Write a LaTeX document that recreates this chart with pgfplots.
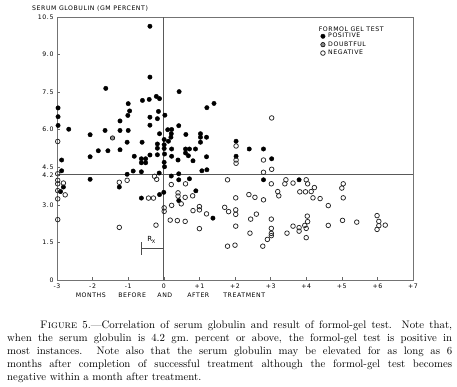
\documentclass[border=0pt]{standalone}
\usepackage{fontspec}
\usepackage{pgfplots}
\pgfplotsset{compat=1.18}
\newfontfamily\lbl[LetterSpace=9]{DejaVu Sans}
\newcommand{\lblfont}{\lbl\fontsize{6.2}{7}\selectfont}
\begin{document}
\begin{tikzpicture}
\useasboundingbox (0,0) rectangle (457pt,387pt);
\begin{axis}[
  at={(57pt,107pt)}, anchor=south west,
  width=356pt, height=263pt, scale only axis,
  xmin=-3, xmax=7, ymin=0, ymax=10.5,
  xtick={-3,-2,-1,0,1,2,3,4,5,6,7},
  xticklabels={-3,-2,-1,0,+1,+2,+3,+4,+5,+6,+7},
  ytick={0,1.5,3,4.2,4.5,6,7.5,9,10.5},
  yticklabels={0,1.5,3.0,4.2,4.5,6.0,7.5,9.0,10.5},
  tick align=inside, xtick pos=bottom, ytick pos=left,
  major tick length=3pt,
  axis line style={black!55, line width=0.7pt},
  tick style={black!60, line width=0.6pt},
  ticklabel style={font=\lblfont},
  clip=false,
  legend image code/.code={\draw[#1] plot coordinates {(0pt,0pt)};},
  legend style={draw=none, fill=none, at={(axis cs:4.4,9.88)}, anchor=north west,
    font=\lblfont, row sep=1.3pt, inner sep=0pt,
    nodes={inner xsep=3pt, inner ysep=0.5pt}},
  legend cell align=left,
]
\draw[black!65, line width=0.7pt] (axis cs:0,0) -- (axis cs:0,10.5);
\draw[black!65, line width=0.7pt] (axis cs:-3,4.2) -- (axis cs:7,4.2);
\draw[black!70, line width=0.5pt] (axis cs:-0.64,1.26) -- (axis cs:0,1.26);
\draw[black!70, line width=0.5pt] (axis cs:-0.64,1.0) -- (axis cs:-0.64,1.53);
\node[font=\lbl\fontsize{7}{8}\selectfont] at (axis cs:-0.35,1.6) {R\kern-0.5pt\raisebox{-2pt}{\fontsize{5}{5}\selectfont X}};

\addplot[only marks, mark=*, mark size=2.2pt, mark options={fill=black, draw=black}] table {
x y
-0.39 10.13
-0.39 8.10
-1.63 7.65
0.43 7.52
-2.97 6.87
-2.97 6.52
-2.97 6.17
-2.67 6.02
-2.07 5.80
-1.65 5.97
-1.23 6.35
-1.23 5.97
-1.00 7.04
-0.96 6.75
-1.01 6.57
-1.00 5.97
-1.03 5.50
-0.60 7.17
-0.41 7.21
-0.21 7.33
-0.12 7.24
-0.15 6.73
-0.39 6.50
-0.18 6.44
-0.39 6.18
0.03 6.58
-0.12 5.84
-0.61 5.50
-2.07 4.92
-1.84 5.16
-1.57 5.16
-1.23 5.20
-0.83 4.94
-0.63 4.84
-0.51 4.84
-0.63 4.68
-0.51 4.68
-0.39 4.99
-0.18 5.00
-0.18 5.43
-0.18 5.26
0.01 5.61
0.01 5.40
0.01 5.25
0.02 5.03
0.01 4.70
0.02 4.52
-2.87 4.79
-2.87 4.36
1.21 6.88
1.41 7.05
0.42 6.16
0.11 6.00
0.22 6.01
0.21 5.84
0.20 5.70
0.62 5.81
1.03 5.84
1.03 5.70
1.20 5.70
0.13 5.54
1.03 5.50
0.22 5.23
0.61 5.23
0.72 5.23
0.61 5.07
0.69 4.96
0.89 5.23
0.22 4.94
0.40 4.79
0.82 4.76
1.20 4.92
2.03 5.54
2.40 5.23
2.80 5.23
2.03 4.94
3.03 4.84
-2.82 3.71
-2.90 3.53
-2.07 4.02
-1.25 3.71
-1.03 4.22
-0.86 4.35
-0.63 4.32
-0.63 3.27
-0.13 4.27
-0.12 3.41
0.00 3.50
0.21 4.15
0.42 4.24
0.42 4.00
0.72 4.04
1.07 4.36
1.21 4.40
0.42 3.17
0.90 3.56
1.38 2.47
2.80 4.00
3.80 4.00
};
\addlegendentry{POSITIVE}
\addplot[only marks, mark=*, mark size=2.2pt, mark options={fill=black!45, draw=black, line width=0.6pt}] table {
x y
-1.44 5.67
};
\addlegendentry{DOUBTFUL}
\addplot[only marks, mark=o, mark size=2.3pt, mark options={draw=black!85, line width=0.75pt}] table {
x y
-2.98 5.53
-2.98 4.24
-2.98 3.98
-2.98 3.84
-2.82 3.87
-2.98 3.57
-2.77 3.40
-2.98 3.24
-2.98 2.41
-1.25 3.90
-1.25 2.10
-1.03 3.98
-0.43 3.27
-0.29 3.27
-0.26 4.14
-0.20 4.02
0.01 2.88
0.01 2.74
-0.22 2.19
2.03 5.35
2.03 4.79
2.03 4.66
2.80 4.79
3.03 6.47
3.03 4.42
2.80 4.30
0.21 3.81
0.61 3.84
0.40 3.48
0.40 3.35
0.49 3.04
0.60 3.30
0.81 3.36
0.22 2.98
0.82 2.77
1.00 2.93
1.00 2.80
1.20 2.64
0.18 2.39
0.38 2.37
0.60 2.34
1.00 2.05
1.79 4.00
2.02 3.28
1.71 2.90
1.82 2.73
2.02 2.80
2.02 2.62
2.02 2.15
1.79 1.35
2.00 1.39
2.39 3.41
2.56 3.30
2.80 3.20
3.02 3.84
2.44 2.43
2.60 2.63
3.02 2.43
2.42 1.87
3.02 2.06
3.02 1.86
3.02 1.77
2.91 1.62
2.78 1.35
3.43 4.00
3.40 3.84
3.63 3.87
4.00 4.00
4.04 3.84
3.20 3.53
3.23 3.36
3.82 3.52
3.98 3.52
4.14 3.53
4.23 3.69
4.19 3.28
4.39 3.25
4.62 2.97
5.04 3.84
5.00 3.67
5.04 3.28
3.46 1.87
3.63 2.15
3.80 2.09
3.80 1.95
3.96 2.18
4.00 2.06
4.04 2.33
4.03 2.55
4.00 1.69
4.62 2.18
5.02 2.38
5.42 2.31
5.99 2.57
6.04 2.34
6.04 2.17
5.99 2.02
6.22 2.19
};
\addlegendentry{NEGATIVE}

\node[font=\lblfont, anchor=west, inner sep=0pt] at (axis cs:4.35,10.03) {FORMOL GEL TEST};
\node[font=\lblfont] at (axis cs:-2.05,-0.62) {MONTHS};
\node[font=\lblfont] at (axis cs:-0.89,-0.62) {BEFORE};
\node[font=\lblfont] at (axis cs:0.03,-0.62) {AND};
\node[font=\lblfont] at (axis cs:0.97,-0.62) {AFTER};
\node[font=\lblfont] at (axis cs:2.26,-0.62) {TREATMENT};
\end{axis}
\node[font=\lblfont, anchor=west, inner sep=0pt] at (32pt,378pt) {SERUM GLOBULIN (GM PERCENT)};
\node[anchor=north west, text width=445pt, inner sep=0pt, align=justify,
  font=\fontsize{10.8}{13}\selectfont] at (7pt,66.5pt)
{\hspace*{33pt}\textsc{Figure} 5.\textemdash Correlation of serum globulin and result of formol-gel test.  Note that,\linebreak
when the serum globulin is 4.2 gm.\ percent or above, the formol-gel test is positive in\linebreak
most instances.  Note also that the serum globulin may be elevated for as long as 6\linebreak
months after completion of successful treatment although the formol-gel test becomes\linebreak
negative within a month after treatment.};
\end{tikzpicture}
\end{document}
